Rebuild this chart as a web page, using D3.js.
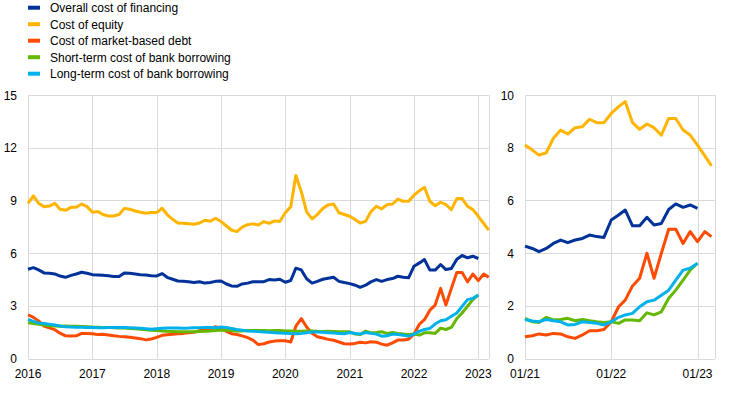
<!DOCTYPE html>
<html>
<head>
<meta charset="utf-8">
<script src="https://cdn.jsdelivr.net/npm/d3@7"></script>
<style>
  body { margin: 0; background: #fff; }
  text { font-family: "Liberation Sans", Arial, sans-serif; }
</style>
</head>
<body>
<div id="graph"></div>
<script>

// monthly values, left panel starts Jan 2016, right panel Jan 2021
const seriesNames = [
  "Overall cost of financing",
  "Cost of equity",
  "Cost of market-based debt",
  "Short-term cost of bank borrowing",
  "Long-term cost of bank borrowing"
];
const seriesColors = ["#003299", "#ffb400", "#ff4b00", "#65b800", "#00b1ea"];

const overall = [5.09,5.18,5.05,4.88,4.86,4.82,4.70,4.63,4.74,4.82,4.92,4.86,4.78,4.76,4.74,4.72,4.68,4.67,4.88,4.86,4.82,4.78,4.76,4.72,4.71,4.84,4.63,4.52,4.42,4.40,4.38,4.34,4.38,4.30,4.33,4.40,4.42,4.25,4.14,4.12,4.25,4.30,4.38,4.38,
  4.38,4.50,4.48,4.52,4.35,4.45,5.15,5.05,4.55,4.30,4.40,4.52,4.58,4.63,4.40,4.33,
  4.27,4.18,4.06,4.18,4.37,4.50,4.40,4.50,4.56,4.69,4.63,4.60,5.26,5.45,5.64,5.04,5.04,5.36,5.07,5.13,5.66,5.87,5.74,5.83,5.70];

const equity = [8.84,9.26,8.84,8.65,8.68,8.84,8.50,8.44,8.61,8.61,8.80,8.65,8.33,8.37,8.20,8.12,8.12,8.20,8.55,8.50,8.40,8.33,8.27,8.31,8.31,8.56,8.20,7.93,7.72,7.70,7.68,7.65,7.72,7.87,7.82,7.99,7.80,7.55,7.32,7.23,7.48,7.62,7.67,7.61,
  7.80,7.70,7.84,7.80,8.30,8.65,10.42,9.50,8.35,7.95,8.20,8.55,8.75,8.80,8.30,8.20,
  8.10,7.91,7.72,7.81,8.36,8.67,8.52,8.76,8.80,9.08,8.95,8.95,9.30,9.56,9.75,8.95,8.70,8.90,8.76,8.48,9.11,9.11,8.67,8.48,8.10,7.69,7.31];

const marketDebt = [2.50,2.35,2.15,1.85,1.75,1.65,1.45,1.30,1.29,1.30,1.44,1.44,1.42,1.37,1.39,1.35,1.30,1.27,1.25,1.22,1.18,1.14,1.07,1.12,1.21,1.33,1.36,1.39,1.42,1.44,1.48,1.50,1.60,1.64,1.67,1.82,1.70,1.55,1.42,1.38,1.30,1.20,1.06,0.80,
  0.85,0.95,1.00,1.02,1.02,0.95,1.85,2.28,1.80,1.45,1.25,1.18,1.10,1.05,0.95,0.85,
  0.83,0.87,0.94,0.90,0.96,0.94,0.83,0.77,0.90,1.06,1.06,1.11,1.40,1.97,2.22,2.76,3.05,4.00,3.05,4.00,4.91,4.91,4.37,4.82,4.44,4.82,4.63];

const shortBank = [2.05,2.00,1.96,1.92,1.88,1.86,1.85,1.86,1.85,1.84,1.83,1.82,1.80,1.79,1.78,1.77,1.76,1.75,1.74,1.72,1.70,1.68,1.65,1.62,1.60,1.58,1.56,1.55,1.54,1.53,1.53,1.54,1.55,1.56,1.58,1.60,1.62,1.62,1.60,1.58,1.58,1.60,1.61,1.60,
  1.60,1.59,1.60,1.60,1.58,1.57,1.56,1.56,1.57,1.58,1.56,1.55,1.56,1.55,1.54,1.53,
  1.53,1.40,1.37,1.57,1.47,1.49,1.53,1.44,1.49,1.44,1.40,1.37,1.40,1.34,1.47,1.47,1.44,1.74,1.66,1.78,2.29,2.60,2.98,3.36,3.62];

const longBank = [2.24,2.12,2.03,2.00,1.96,1.92,1.86,1.82,1.80,1.79,1.79,1.78,1.77,1.76,1.76,1.77,1.78,1.77,1.77,1.76,1.75,1.73,1.70,1.67,1.70,1.73,1.74,1.74,1.74,1.73,1.74,1.76,1.76,1.77,1.78,1.76,1.80,1.78,1.72,1.66,1.62,1.58,1.56,1.54,
  1.52,1.50,1.48,1.46,1.45,1.43,1.42,1.44,1.48,1.52,1.52,1.50,1.48,1.46,1.44,1.42,
  1.49,1.43,1.40,1.49,1.44,1.40,1.28,1.30,1.40,1.37,1.34,1.28,1.40,1.57,1.66,1.72,1.97,2.16,2.22,2.41,2.60,2.98,3.36,3.43,3.62];

const leftYTicks = [0, 3, 6, 9, 12, 15];
const rightYTicks = [0, 2, 4, 6, 8, 10];
const leftXTicks = ["2016","2017","2018","2019","2020","2021","2022","2023"];
const rightXTicks = ["01/21","01/22","01/23"];

const allSeries = [overall, equity, marketDebt, shortBank, longBank];

var svg = d3.select("#graph").append("svg")
    .attr("width", 744)
    .attr("height", 394);

function monthDate(m) { return new Date(2016, m, 1); }

function drawPanel(opts) {
  var x = d3.scaleTime().domain(opts.xDomain).range(opts.xRange);
  var y = d3.scaleLinear().domain(opts.yDomain).range([358.7, 95]);
  var g = svg.append("g");

  // horizontal gridlines
  g.selectAll(".hgrid")
    .data(opts.yTicks)
    .enter().append("line")
    .attr("x1", opts.xRange[0])
    .attr("x2", opts.xRange[1])
    .attr("y1", function(d) { return Math.round(y(d)) + 0.5; })
    .attr("y2", function(d) { return Math.round(y(d)) + 0.5; })
    .attr("stroke", "#d9d9d9")
    .attr("stroke-width", 1);

  // vertical gridlines at each january
  g.selectAll(".vgrid")
    .data(opts.xTickDates)
    .enter().append("line")
    .attr("x1", function(d) { return Math.round(x(d)) + 0.5; })
    .attr("x2", function(d) { return Math.round(x(d)) + 0.5; })
    .attr("y1", y(opts.yDomain[1]))
    .attr("y2", y(0))
    .attr("stroke", "#d9d9d9")
    .attr("stroke-width", 1);

  // right border
  g.append("line")
    .attr("x1", Math.round(opts.xRange[1]) + 0.5)
    .attr("x2", Math.round(opts.xRange[1]) + 0.5)
    .attr("y1", y(opts.yDomain[1]))
    .attr("y2", y(0))
    .attr("stroke", "#d9d9d9");

  g.selectAll(".ylab")
    .data(opts.yTicks)
    .enter().append("text")
    .attr("x", opts.xRange[0] - 11)
    .attr("y", function(d) { return y(d) + 4.5; })
    .attr("text-anchor", "end")
    .attr("font-size", "12px")
    .attr("fill", "#000")
    .text(function(d) { return d; });

  g.selectAll(".xlab")
    .data(opts.xTickDates)
    .enter().append("text")
    .attr("x", function(d) { return x(d); })
    .attr("y", 378)
    .attr("text-anchor", "middle")
    .attr("font-size", "12px")
    .attr("fill", "#000")
    .text(function(d, i) { return opts.xLabels[i]; });

  var line = d3.line()
    .x(function(d) { return x(d.date); })
    .y(function(d) { return y(d.value); });

  allSeries.forEach(function(values, i) {
    var pts = values.map(function(v, m) { return { date: monthDate(m), value: v }; })
      .filter(function(p) { return p.date >= opts.xDomain[0]; });
    g.append("path")
      .datum(pts)
      .attr("d", line)
      .attr("fill", "none")
      .attr("stroke", seriesColors[i])
      .attr("stroke-width", 3)
      .attr("stroke-linejoin", "round");
  });
}

drawPanel({
  xDomain: [new Date(2016, 0, 1), new Date(2023, 2, 1)],
  xRange: [28, 488.7],
  yDomain: [0, 15],
  yTicks: leftYTicks,
  xTickDates: leftXTicks.map(function(t) { return new Date(+t, 0, 1); }),
  xLabels: leftXTicks
});

drawPanel({
  xDomain: [new Date(2021, 0, 1), new Date(2023, 2, 16)],
  xRange: [525, 715],
  yDomain: [0, 10],
  yTicks: rightYTicks,
  xTickDates: rightXTicks.map(function(t) { return new Date(2000 + +t.slice(3), 0, 1); }),
  xLabels: rightXTicks
});

// legend
var legend = svg.append("g");
seriesNames.forEach(function(name, i) {
  var ly = 7.7 + i * 16.5;
  legend.append("line")
    .attr("x1", 28).attr("x2", 40)
    .attr("y1", ly).attr("y2", ly)
    .attr("stroke", seriesColors[i])
    .attr("stroke-width", 4);
  legend.append("text")
    .attr("x", 50)
    .attr("y", ly + 4.3)
    .attr("font-size", "12px")
    .attr("fill", "#000")
    .text(name);
});

</script>
</body>
</html>
